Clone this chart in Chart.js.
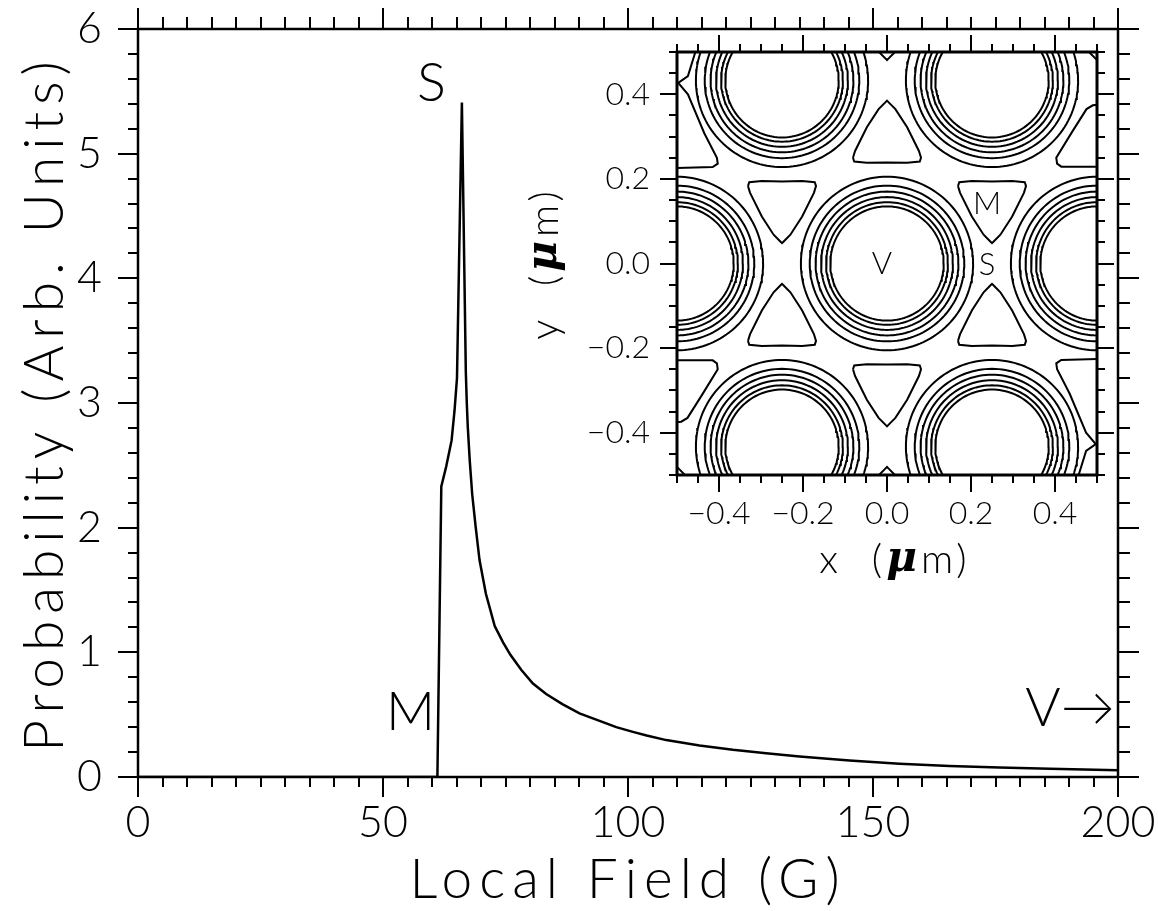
<!DOCTYPE html>
<html><head><meta charset="utf-8">
<script src="https://cdn.jsdelivr.net/npm/chart.js@4.4.0/dist/chart.umd.min.js"></script>
<style>
html,body{margin:0;padding:0;background:#fff;}
#wrap{position:relative;width:1158px;height:911px;background:#fff;}
canvas{position:absolute;left:0;top:0;}
</style></head><body>
<div id="wrap"><canvas id="main" width="1158" height="911"></canvas><canvas id="inset" width="1158" height="911"></canvas></div>
<script>
// ---------- main chart data ----------
const fieldG = [0, 61.1, 61.9, 62.9, 64.0, 64.6, 65.1, 66.1, 66.9, 67.1, 67.3, 67.7, 68.2, 68.9, 69.7, 71.0, 72.8, 74.5, 76.0, 78.2, 80.6, 83.3, 86.6, 90.1, 94.2, 97.6, 101.0, 103.8, 107.8, 114.6, 121.4, 128.2, 135.0, 145.2, 155.4, 165.6, 175.8, 186.1, 200.0];
const probability = [0, 0, 2.33, 2.49, 2.70, 2.94, 3.20, 5.41, 3.25, 3.00, 2.81, 2.54, 2.27, 2.01, 1.74, 1.47, 1.21, 1.08, 0.98, 0.86, 0.75, 0.665, 0.585, 0.51, 0.45, 0.40, 0.362, 0.333, 0.296, 0.252, 0.218, 0.190, 0.165, 0.133, 0.107, 0.089, 0.076, 0.066, 0.054];
const mainXTicks = [0, 50, 100, 150, 200];
const mainYTicks = [0, 1, 2, 3, 4, 5, 6];
const mainXMinorStep = 5;
const mainYMinorStep = 0.2;
const mainLabels = ['S', 'M', 'V\u2192'];
const mainLabelX = [59.9, 55.6, 190.2];
const mainLabelY = [5.56, 0.52, 0.55];

// ---------- inset (contour map) data, in micrometres ----------
const insetTicks = [-0.4, -0.2, 0.0, 0.2, 0.4];
const insetMinorStep = 0.05;
const vortexX = [0, -0.5, 0.5, -0.25, 0.25, -0.25, 0.25];
const vortexY = [0, 0, 0, 0.433, 0.433, -0.433, -0.433];
const contourRadii = [0.205, 0.184, 0.170, 0.157, 0.145, 0.135];
// field minima enclosed by a triangular contour, apex pointing down / up
const minDownX = [-0.25, 0.25, 0, 0.5, 0];
const minDownY = [0.144, 0.144, 0.577, 0.577, -0.289];
const minUpX = [-0.25, 0.25, 0, 0, -0.5];
const minUpY = [-0.144, -0.144, 0.289, -0.577, -0.577];
// shape of the minimum contour (apex down), relative to the minimum
const triX = [-0.081, -0.078, -0.048, 0, 0.048, 0.078, 0.081, 0.076, 0.048, 0.020, 0.004, 0, -0.004, -0.020, -0.048, -0.076, -0.081];
const triY = [0.039, 0.048, 0.051, 0.050, 0.051, 0.048, 0.039, 0.023, -0.033, -0.076, -0.092, -0.096, -0.092, -0.076, -0.033, 0.023, 0.039];
// minimum contour cut by the right edge (upper); the lower-left one is its 180deg image
const edgeTriX = [0.53, 0.415, 0.405, 0.403, 0.440, 0.475, 0.490, 0.53];
const edgeTriY = [0.229, 0.229, 0.236, 0.250, 0.310, 0.365, 0.374, 0.378];
// merged minimum contour at the lower-right edge (upper-left one is its 180deg image)
const edgeX = [0.53, 0.415, 0.403, 0.405, 0.435, 0.474, 0.497, 0.474, 0.447];
const edgeY = [-0.225, -0.228, -0.236, -0.250, -0.308, -0.400, -0.427, -0.443, -0.53];
const insetLabels = ['V', 'S', 'M'];
const insetLabelX = [-0.012, 0.238, 0.238];
const insetLabelY = [0.0, -0.004, 0.140];

const FONT = 'Lato, "Open Sans", "DejaVu Sans", sans-serif';
const GREEK = '"DejaVu Serif", "Liberation Serif", serif';

function minorValues(min, max, step, majors) {
  const out = [];
  const n = Math.round((max - min) / step);
  for (let i = 0; i <= n; i++) {
    const v = +(min + i * step).toFixed(6);
    if (!majors.some(m => Math.abs(m - v) < 1e-9)) out.push(v);
  }
  return out;
}

const frameTicks = {
  id: 'frameTicks',
  afterDatasetsDraw(chart, args, o) {
    const {ctx, chartArea: a} = chart;
    const xs = chart.scales.x, ys = chart.scales.y;
    ctx.save();
    ctx.strokeStyle = '#000';
    ctx.lineCap = 'butt';
    ctx.lineWidth = o.tickWidth;
    ctx.beginPath();
    const xt = (vals, lb, lt) => vals.forEach(v => {
      const p = Math.round(xs.getPixelForValue(v));
      ctx.moveTo(p, a.bottom); ctx.lineTo(p, a.bottom + lb);
      ctx.moveTo(p, a.top); ctx.lineTo(p, a.top - lt);
    });
    const yt = (vals, ll, lr) => vals.forEach(v => {
      const p = Math.round(ys.getPixelForValue(v));
      ctx.moveTo(a.left, p); ctx.lineTo(a.left - ll, p);
      ctx.moveTo(a.right, p); ctx.lineTo(a.right + lr, p);
    });
    xt(o.xMajor, o.majB, o.majT);
    xt(o.xMinor, o.minB, o.minT);
    yt(o.yMajor, o.majB, o.majT);
    yt(o.yMinor, o.minB, o.minT);
    ctx.stroke();
    ctx.lineWidth = o.frameWidth;
    ctx.strokeRect(a.left, a.top, a.right - a.left, a.bottom - a.top);
    ctx.restore();
  }
};

// draws a list of [text, font] pieces centred on (0,0)
function drawRich(ctx, parts, spacing) {
  let total = 0;
  const widths = parts.map(p => { ctx.font = p[1]; const w = ctx.measureText(p[0]).width + spacing * p[0].length; total += w; return w; });
  let x = -total / 2;
  parts.forEach((p, i) => {
    ctx.font = p[1];
    ctx.textAlign = 'left';
    if ('letterSpacing' in ctx) ctx.letterSpacing = spacing + 'px';
    ctx.fillText(p[0], x, 0);
    x += widths[i];
  });
  if ('letterSpacing' in ctx) ctx.letterSpacing = '0px';
}

const textLayer = {
  id: 'textLayer',
  afterDraw(chart, args, o) {
    const {ctx, chartArea: a} = chart;
    const xs = chart.scales.x, ys = chart.scales.y;
    ctx.save();
    ctx.fillStyle = '#000';
    ctx.textBaseline = 'middle';
    ctx.save();
    ctx.translate((a.left + a.right) / 2 + o.xdx, a.bottom + o.xOffset);
    drawRich(ctx, o.xTitle, o.spacing);
    ctx.restore();
    ctx.save();
    ctx.translate(a.left - o.yOffset, (a.top + a.bottom) / 2 + o.ydy);
    ctx.rotate(-Math.PI / 2);
    drawRich(ctx, o.yTitle, o.spacing);
    ctx.restore();
    ctx.font = o.labelFont;
    ctx.textAlign = 'center';
    o.labels.forEach((t, i) => {
      ctx.fillText(t, xs.getPixelForValue(o.labelX[i]), ys.getPixelForValue(o.labelY[i]));
    });
    ctx.restore();
  }
};

function fixedTicks(list) {
  return s => { s.ticks = list.map(v => ({value: v})); };
}
function fixSize(w, h) {
  return s => {
    if (w !== null) s.width = w;
    if (h !== null) s.height = h;
    s.paddingLeft = 0; s.paddingRight = 0; s.paddingTop = 0; s.paddingBottom = 0;
  };
}

// ---------- main chart ----------
const TF = '300 55px ' + FONT;
new Chart(document.getElementById('main'), {
  type: 'scatter',
  data: {
    datasets: [{
      data: fieldG.map((g, i) => ({x: g, y: probability[i]})),
      showLine: true, borderColor: '#000', borderWidth: 2.5,
      pointRadius: 0, tension: 0, fill: false
    }]
  },
  options: {
    responsive: false, animation: false, events: [],
    layout: {padding: {top: 29, right: 40, left: 0, bottom: 0}},
    plugins: {
      legend: {display: false}, tooltip: {enabled: false},
      frameTicks: {
        xMajor: mainXTicks, xMinor: minorValues(0, 200, mainXMinorStep, mainXTicks),
        yMajor: mainYTicks, yMinor: minorValues(0, 6, mainYMinorStep, mainYTicks),
        majB: 20, majT: 21, minB: 10, minT: 12, tickWidth: 2, frameWidth: 2.5
      },
      textLayer: {
        spacing: 7,
        xTitle: [['Local Field (G)', TF]], xOffset: 103, xdx: 0,
        yTitle: [['Probability (Arb. Units)', TF]], yOffset: 93, ydy: 0,
        labelFont: '300 54px ' + FONT,
        labels: mainLabels, labelX: mainLabelX, labelY: mainLabelY
      }
    },
    scales: {
      x: {
        type: 'linear', position: 'bottom', min: 0, max: 200,
        afterBuildTicks: fixedTicks(mainXTicks),
        afterFit: fixSize(null, 134),
        grid: {display: false, drawTicks: false}, border: {display: false},
        ticks: {color: '#000', font: {family: FONT, size: 43, weight: 300}, padding: 20, maxRotation: 0, autoSkip: false}
      },
      y: {
        type: 'linear', position: 'left', min: 0, max: 6,
        afterBuildTicks: fixedTicks(mainYTicks),
        afterFit: fixSize(138, null),
        grid: {display: false, drawTicks: false}, border: {display: false},
        ticks: {color: '#000', font: {family: FONT, size: 43, weight: 300}, padding: 36, autoSkip: false}
      }
    }
  },
  plugins: [frameTicks, textLayer]
});

// ---------- inset contour chart ----------
function lineSet(points) {
  return {data: points, showLine: true, borderColor: '#000', borderWidth: 2, pointRadius: 0, tension: 0, fill: false};
}
const CIRCLE_STEPS = 144;
const insetSets = [];
vortexX.forEach((vx, i) => {
  contourRadii.forEach(r => {
    const pts = [];
    for (let k = 0; k <= CIRCLE_STEPS; k++) {
      const t = 2 * Math.PI * k / CIRCLE_STEPS;
      pts.push({x: vx + r * Math.cos(t), y: vortexY[i] + r * Math.sin(t)});
    }
    insetSets.push(lineSet(pts));
  });
});
minDownX.forEach((mx, i) => insetSets.push(lineSet(triX.map((dx, k) => ({x: mx + dx, y: minDownY[i] + triY[k]})))));
minUpX.forEach((mx, i) => insetSets.push(lineSet(triX.map((dx, k) => ({x: mx + dx, y: minUpY[i] - triY[k]})))));
insetSets.push(lineSet(edgeTriX.map((x, k) => ({x: x, y: edgeTriY[k]}))));
insetSets.push(lineSet(edgeTriX.map((x, k) => ({x: -x, y: -edgeTriY[k]}))));
insetSets.push(lineSet(edgeX.map((x, k) => ({x: x, y: edgeY[k]}))));
insetSets.push(lineSet(edgeX.map((x, k) => ({x: -x, y: -edgeY[k]}))));

const fmtInset = v => (v < -1e-9 ? '\u2212' : '') + Math.abs(v).toFixed(1);
const IF = '300 40px ' + FONT;
const MU = 'bold italic 42px ' + GREEK;

new Chart(document.getElementById('inset'), {
  type: 'scatter',
  data: {datasets: insetSets},
  options: {
    responsive: false, animation: false, events: [],
    layout: {padding: {top: 52, right: 61, left: 520, bottom: 311}},
    plugins: {
      legend: {display: false}, tooltip: {enabled: false},
      frameTicks: {
        xMajor: insetTicks, xMinor: minorValues(-0.5, 0.5, insetMinorStep, insetTicks),
        yMajor: insetTicks, yMinor: minorValues(-0.5, 0.5, insetMinorStep, insetTicks),
        majB: 17, majT: 17, minB: 8, minT: 8, tickWidth: 2, frameWidth: 3
      },
      textLayer: {
        spacing: 4,
        xTitle: [['x  (', IF], ['\u03bc', MU], ['m)', IF]], xOffset: 85, xdx: 8,
        yTitle: [['y  (', IF], ['\u03bc', MU], ['m)', IF]], yOffset: 132, ydy: 0,
        labelFont: '300 31px ' + FONT,
        labels: insetLabels, labelX: insetLabelX, labelY: insetLabelY
      }
    },
    scales: {
      x: {
        type: 'linear', position: 'bottom', min: -0.5, max: 0.5,
        afterBuildTicks: fixedTicks(insetTicks),
        afterFit: fixSize(null, 125),
        grid: {display: false, drawTicks: false}, border: {display: false},
        ticks: {color: '#000', font: {family: FONT, size: 32, weight: 300}, padding: 19, maxRotation: 0, autoSkip: false, callback: fmtInset}
      },
      y: {
        type: 'linear', position: 'left', min: -0.5, max: 0.5,
        afterBuildTicks: fixedTicks(insetTicks),
        afterFit: fixSize(157, null),
        grid: {display: false, drawTicks: false}, border: {display: false},
        ticks: {color: '#000', font: {family: FONT, size: 32, weight: 300}, padding: 27, autoSkip: false, callback: fmtInset}
      }
    }
  },
  plugins: [frameTicks, textLayer]
});
</script>
</body></html>
